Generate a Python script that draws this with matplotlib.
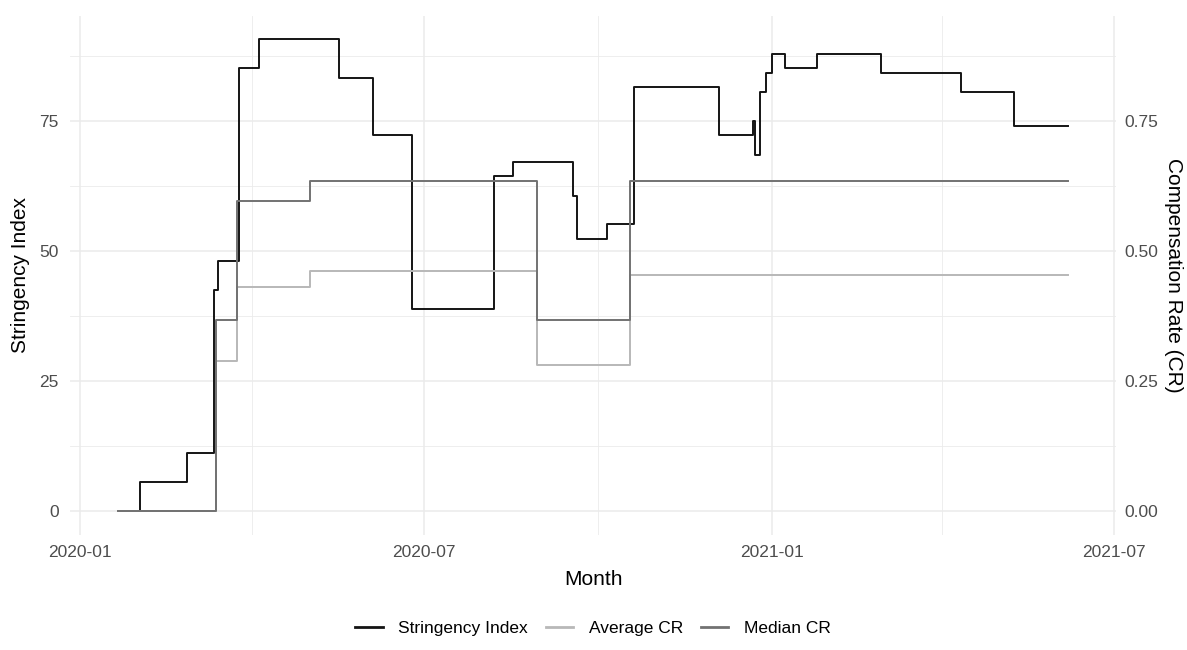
import matplotlib
matplotlib.use("Agg")
import matplotlib.pyplot as plt
import matplotlib.dates as mdates
from matplotlib.lines import Line2D
import numpy as np
import pandas as pd

# ── Data (change points, values hold until next date) ─────────────────────────
end_date = "2021-06-07"

si_dates = ["2020-01-21", "2020-02-02", "2020-02-27", "2020-03-12", "2020-03-14",
            "2020-03-25", "2020-04-05", "2020-05-17", "2020-06-04", "2020-06-25",
            "2020-08-07", "2020-08-17", "2020-09-18", "2020-09-20", "2020-10-06",
            "2020-10-20", "2020-12-04", "2020-12-22", "2020-12-23", "2020-12-26",
            "2020-12-29", "2021-01-01", "2021-01-08", "2021-01-25", "2021-02-28",
            "2021-04-11", "2021-05-09"]
si_values = [0.00, 5.56, 11.11, 42.59, 48.15,
             85.19, 90.74, 83.33, 72.22, 38.89,
             64.35, 67.13, 60.65, 52.31, 55.09,
             81.48, 72.22, 75.00, 68.52, 80.56,
             84.26, 87.96, 85.19, 87.96, 84.26,
             80.56, 74.07]

cr_dates = ["2020-01-21", "2020-03-13", "2020-03-24", "2020-05-02",
            "2020-08-30", "2020-10-18"]
avg_cr = [0.0, 0.288, 0.431, 0.461, 0.280, 0.453]
med_cr = [0.0, 0.368, 0.596, 0.634, 0.368, 0.634]

# ── Style ─────────────────────────────────────────────────────────────────────
COL_SI = "#141414"
COL_AVG = "#b8b8b8"
COL_MED = "#727272"
GRID = "#ebebeb"
TXT = "#4d4d4d"
LW = 1.4

plt.rcParams.update({
    "font.family": ["Liberation Sans", "DejaVu Sans"],
})


def step_series(dates, values):
    d = list(pd.to_datetime(dates)) + [pd.Timestamp(end_date)]
    v = list(values) + [values[-1]]
    return d, v


W, H = 1187, 650
fig = plt.figure(figsize=(W / 100, H / 100), dpi=100)
left, right, top, bottom = 70, 1116, 15.5, 534.6
ax = fig.add_axes([left / W, 1 - bottom / H, (right - left) / W, (bottom - top) / H])

d, v = step_series(si_dates, si_values)
ax.plot(d, v, drawstyle="steps-post", color=COL_SI, lw=LW, zorder=3)
d, v = step_series(cr_dates, np.array(avg_cr) * 100)
ax.plot(d, v, drawstyle="steps-post", color=COL_AVG, lw=LW, zorder=3)
d, v = step_series(cr_dates, np.array(med_cr) * 100)
ax.plot(d, v, drawstyle="steps-post", color=COL_MED, lw=LW, zorder=3)

# ggplot-like 5% expansion
x0 = mdates.date2num(pd.Timestamp(si_dates[0]))
x1 = mdates.date2num(pd.Timestamp(end_date))
pad = 0.05 * (x1 - x0)
ax.set_xlim(x0 - pad, x1 + pad)
ymax = max(si_values)
ax.set_ylim(-0.05 * ymax, ymax * 1.05)

ax.xaxis.set_major_locator(mdates.MonthLocator(bymonth=[1, 7]))
ax.xaxis.set_minor_locator(mdates.MonthLocator(bymonth=[4, 10]))
ax.xaxis.set_major_formatter(mdates.DateFormatter("%Y-%m"))
ax.set_yticks([0, 25, 50, 75])
ax.set_yticks([12.5, 37.5, 62.5, 87.5], minor=True)

ax.grid(True, which="major", color=GRID, lw=1.1, zorder=0)
ax.grid(True, which="minor", color=GRID, lw=0.6, zorder=0)
for s in ax.spines.values():
    s.set_visible(False)
ax.tick_params(which="both", length=0, labelsize=12.5, labelcolor=TXT)
ax.tick_params(axis="x", pad=7.5)
ax.tick_params(axis="y", pad=8)

ax.set_xlabel("Month", fontsize=15, labelpad=7)
ax.set_ylabel("Stringency Index", fontsize=15, labelpad=7)

sec = ax.secondary_yaxis("right", functions=(lambda x: x / 100, lambda x: x * 100))
sec.set_yticks([0, 0.25, 0.5, 0.75])
sec.set_yticklabels(["0.00", "0.25", "0.50", "0.75"])
sec.tick_params(length=0, labelsize=12.5, labelcolor=TXT, pad=6)
for s in sec.spines.values():
    s.set_visible(False)
sec.set_ylabel("Compensation Rate (CR)", fontsize=15, rotation=270, labelpad=18)

handles = [Line2D([], [], color=COL_SI, lw=2),
           Line2D([], [], color=COL_AVG, lw=2),
           Line2D([], [], color=COL_MED, lw=2)]
fig.legend(handles, ["Stringency Index", "Average CR", "Median CR"],
           loc="center", bbox_to_anchor=(593 / W, 1 - 628 / H), ncol=3,
           frameon=False, fontsize=12.5, handlelength=1.6, columnspacing=1.0,
           handletextpad=0.9)

fig.savefig("out.png", dpi=100)
